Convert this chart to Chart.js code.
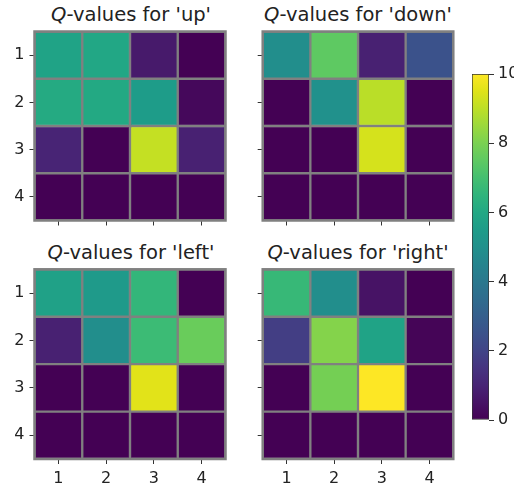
<!DOCTYPE html>
<html><head><meta charset="utf-8">
<script src="https://cdn.jsdelivr.net/npm/chart.js@4.4.0/dist/chart.umd.min.js"></script>
<style>
html,body{margin:0;padding:0;background:#fff;}
#wrap{position:relative;width:517px;height:483px;overflow:hidden;background:#fff;}
canvas{position:absolute;left:0;top:0;}
.title{position:absolute;font-family:'DejaVu Sans';font-size:19.5px;color:#222;white-space:nowrap;transform:translateX(-50%);line-height:19.5px;}
</style></head><body>
<div id="wrap">
  <div class="title" id="t0" style="left:131px;top:5px;"><i>Q</i>-values for 'up'</div>
  <div class="title" id="t1" style="left:358px;top:5px;"><i>Q</i>-values for 'down'</div>
  <div class="title" id="t2" style="left:131px;top:243px;"><i>Q</i>-values for 'left'</div>
  <div class="title" id="t3" style="left:358px;top:243px;"><i>Q</i>-values for 'right'</div>
  <canvas id="c0" width="517" height="483"></canvas>
  <canvas id="c1" width="517" height="483"></canvas>
  <canvas id="c2" width="517" height="483"></canvas>
  <canvas id="c3" width="517" height="483"></canvas>
  <canvas id="cb" width="517" height="483"></canvas>
</div>
<script>
// ---- data ----
const colLabels = ['1', '2', '3', '4'];
const rowLabels = ['1', '2', '3', '4'];
const rowNums = [1, 2, 3, 4];
const qUp = [
  [5.8, 5.95, 0.7, 0.0],
  [6.1, 6.05, 5.5, 0.2],
  [1.0, 0.0, 9.1, 0.9],
  [0.0, 0.0, 0.0, 0.0]
];
const qDown = [
  [4.9, 7.5, 0.9, 2.5],
  [0.0, 5.0, 8.95, 0.0],
  [0.0, 0.0, 9.35, 0.0],
  [0.0, 0.0, 0.0, 0.0]
];
const qLeft = [
  [5.7, 5.4, 6.6, 0.0],
  [0.9, 4.9, 6.8, 7.7],
  [0.0, 0.0, 9.55, 0.0],
  [0.0, 0.0, 0.0, 0.0]
];
const qRight = [
  [6.7, 4.9, 0.5, 0.0],
  [1.8, 8.15, 5.8, 0.1],
  [0.0, 7.9, 10.0, 0.0],
  [0.0, 0.0, 0.0, 0.0]
];
const vMin = 0, vMax = 10;
const colorbarTicks = [0, 2, 4, 6, 8, 10];

// ---- viridis ----
const VIR = ['#440154','#471365','#482475','#463480','#414487','#3b528b','#355f8d','#2f6c8e','#2a788e','#25848e','#21918c','#1e9c89','#22a884','#2fb47c','#44bf70','#5ec962','#7ad151','#9bd93c','#bddf26','#dfe318','#fde725'];
function hex(h){return [parseInt(h.slice(1,3),16),parseInt(h.slice(3,5),16),parseInt(h.slice(5,7),16)];}
function viridis(t){
  t = Math.max(0, Math.min(1, t));
  const f = t * (VIR.length - 1), i = Math.min(VIR.length - 2, Math.floor(f)), u = f - i;
  const a = hex(VIR[i]), b = hex(VIR[i+1]);
  return 'rgb(' + a.map((v,k)=>Math.round(v + (b[k]-v)*u)).join(',') + ')';
}

const W = 517, H = 483;
const FONT = {family: 'DejaVu Sans', size: 16};
const TXT = '#222';
const TICKC = '#333';

const frame = {
  id: 'frame',
  afterDatasetsDraw(chart){
    const {ctx, chartArea: a} = chart;
    ctx.save();
    ctx.strokeStyle = '#808080';
    ctx.lineWidth = 2.5;
    ctx.strokeRect(a.left, a.top, a.right - a.left, a.bottom - a.top);
    ctx.restore();
  }
};

function makePanel(id, vals, box, showX, showY){
  const yw = 30, xh = 25;
  const datasets = vals.map((row, i) => ({
    data: row.map(() => [rowNums[i] - 0.5, rowNums[i] + 0.5]),
    backgroundColor: row.map(v => viridis((v - vMin) / (vMax - vMin))),
    borderColor: '#808080',
    borderWidth: 1.5,
    borderSkipped: false,
    grouped: false,
    barPercentage: 1,
    categoryPercentage: 1
  }));
  new Chart(document.getElementById(id), {
    type: 'bar',
    data: {labels: colLabels, datasets},
    options: {
      responsive: false, animation: false, events: [],
      layout: {padding: {left: box.L - yw, top: box.T, right: W - box.R, bottom: H - box.B - xh}},
      plugins: {legend: {display: false}, tooltip: {enabled: false}},
      scales: {
        x: {
          type: 'category', offset: true,
          grid: {offset: false, drawOnChartArea: false, drawTicks: true, tickLength: 5, tickColor: TICKC, tickWidth: 1},
          border: {display: false},
          ticks: {autoSkip: false, maxRotation: 0, padding: 5, color: TXT, font: FONT,
                  callback: (v, i) => showX ? colLabels[i] : ''},
          afterFit: s => { s.height = xh; }
        },
        y: {
          type: 'linear', min: 0.5, max: 4.5, reverse: true,
          afterBuildTicks: s => { s.ticks = rowNums.map(v => ({value: v})); },
          grid: {drawOnChartArea: false, drawTicks: true, tickLength: 5, tickColor: TICKC, tickWidth: 1},
          border: {display: false},
          ticks: {padding: 5, color: TXT, font: FONT,
                  callback: v => showY ? rowLabels[rowNums.indexOf(v)] : ''},
          afterFit: s => { s.width = yw; }
        }
      }
    },
    plugins: [frame]
  });
}

makePanel('c0', qUp,    {L: 34.5, R: 225.5, T: 31.5, B: 220.5}, false, true);
makePanel('c1', qDown,  {L: 262.7, R: 453.3, T: 31.5, B: 220.5}, false, false);
makePanel('c2', qLeft,  {L: 34.5, R: 225.5, T: 269.3, B: 459}, true, true);
makePanel('c3', qRight, {L: 262.7, R: 453.3, T: 269.3, B: 459}, true, false);

// ---- colorbar ----
(function(){
  const yw = 25;
  const cbBox = {L: 472, R: 489, T: 74, B: 420};
  new Chart(document.getElementById('cb'), {
    type: 'bar',
    data: {labels: [''], datasets: [{
      data: [[vMin, vMax]],
      backgroundColor: c => {
        const ch = c.chart, a = ch.chartArea;
        if (!a) return '#440154';
        const ys = ch.scales.y;
        const g = ch.ctx.createLinearGradient(0, ys.getPixelForValue(vMin), 0, ys.getPixelForValue(vMax));
        VIR.forEach((col, k) => g.addColorStop(k / (VIR.length - 1), col));
        return g;
      },
      borderColor: '#333', borderWidth: 1, borderSkipped: false,
      barPercentage: 1, categoryPercentage: 1
    }]},
    options: {
      responsive: false, animation: false, events: [],
      layout: {padding: {left: cbBox.L, top: cbBox.T, right: W - cbBox.R - yw, bottom: H - cbBox.B}},
      plugins: {legend: {display: false}, tooltip: {enabled: false}},
      scales: {
        x: {display: false},
        y: {
          position: 'right', min: vMin, max: vMax,
          afterBuildTicks: s => { s.ticks = colorbarTicks.map(v => ({value: v})); },
          grid: {drawOnChartArea: false, drawTicks: true, tickLength: 5, tickColor: TICKC, tickWidth: 1},
          border: {display: false},
          ticks: {padding: 4, color: TXT, font: FONT, callback: v => String(v)},
          afterFit: s => { s.width = yw; }
        }
      }
    }
  });
})();
</script>
</body></html>
